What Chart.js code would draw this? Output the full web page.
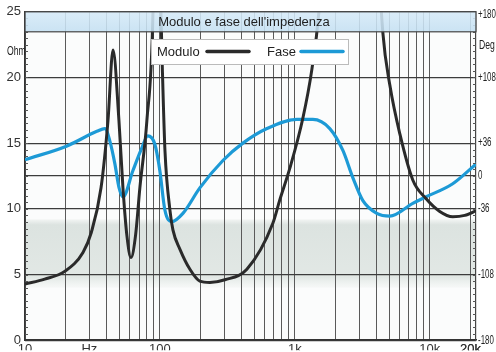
<!DOCTYPE html>
<html>
<head>
<meta charset="utf-8">
<script src="https://cdn.jsdelivr.net/npm/chart.js@4/dist/chart.umd.min.js"></script>
<style>
    html, body { margin: 0; padding: 0; background: #fff; }
    #wrap { width: 496px; height: 352px; }
</style>
</head>
<body>
<div id="wrap"><canvas id="impChart" width="496" height="352"></canvas></div>
<script>
// Modulo (Ohm) vs frequency
const freqModulo = [10, 14, 19.8, 26.9, 31, 36.6, 41.2, 44.9, 49.7, 53.2, 57, 61, 66, 71, 80, 88.8, 95, 101.7, 105, 109, 118.6, 124.8, 141, 166.8, 197.6, 234.5, 303, 441, 687, 774, 918, 1146, 1336, 1507, 2000, 2600, 3400, 4490, 5060, 6000, 7480, 9330, 11850, 14800, 18150, 22500];
const modulo = [4.28, 4.65, 5.26, 6.68, 8.2, 11.6, 16.7, 22.1, 16.7, 11.6, 7.9, 6.3, 8.0, 11.6, 16.7, 25, 45, 25, 19.5, 14.4, 9.9, 8.4, 6.9, 5.4, 4.5, 4.4, 4.6, 5.4, 8.9, 10.7, 13.1, 16.9, 20.6, 25, 45, 60, 45, 23.4, 19.4, 15.7, 12.2, 10.8, 9.8, 9.4, 9.5, 9.9];

// Fase (gradi) vs frequency
const freqFase = [10, 20.5, 34.1, 39.1, 42.6, 46.4, 49.7, 53.2, 63.1, 73.6, 81.3, 91.6, 99.8, 108.7, 122.6, 148, 197.6, 293, 412, 621, 1035, 1359, 1815, 2269, 2692, 3192, 4048, 5054, 7480, 9333, 14791, 22500];
const fase = [17.8, 33, 49, 52, 38, 13, -12.6, -23, 6, 31, 44, 35, 6, -37, -50, -41, -13, 17, 36, 52, 62, 62, 52, 28, -2, -27, -41, -44, -30, -23, -8.5, 14.4];

// tick labels
const ohmTicks = [0, 5, 10, 15, 20, 25];
const degTicks = [-180, -108, -36, 0, 36, 108, 180];
const freqLabels = { 10: '10', 30: 'Hz', 100: '100', 1000: '1k', 10000: '10k', 20000: '20k' };

const titleText = "Modulo e fase dell'impedenza";
const baseFont = "'Liberation Sans', Arial, sans-serif";

function freqGridValues() {
    const vals = [];
    [10, 100, 1000, 10000].forEach(dec => {
        for (let m = 1; m <= 9; m++) {
            const v = dec * m;
            if (v <= 20000) vals.push(v);
        }
    });
    vals.push(20000);
    return vals;
}

// squeezed text, the original uses a condensed face on the side captions
function narrowText(ctx, text, x, y, squeeze) {
    ctx.save();
    ctx.translate(x, y);
    ctx.scale(squeeze, 1);
    ctx.fillText(text, 0, 0);
    ctx.restore();
}

const backdropPlugin = {
    id: 'backdrop',
    beforeDraw(chart) {
        const { ctx, chartArea: a, scales } = chart;
        ctx.save();
        ctx.fillStyle = '#fbfcfc';
        ctx.fillRect(a.left, a.top, a.right - a.left, a.bottom - a.top);

        // grey band 4..9 Ohm
        const yTop = scales.y.getPixelForValue(9.2);
        const yBot = scales.y.getPixelForValue(4.0);
        const g = ctx.createLinearGradient(0, yTop, 0, yBot);
        g.addColorStop(0, 'rgba(222,228,225,0.3)');
        g.addColorStop(0.08, 'rgba(220,227,224,1)');
        g.addColorStop(0.85, 'rgba(226,232,229,1)');
        g.addColorStop(1, 'rgba(238,242,240,0.4)');
        ctx.fillStyle = g;
        ctx.fillRect(a.left, yTop, a.right - a.left, yBot - yTop);
        ctx.restore();
    },
    afterDatasetsDraw(chart) {
        const { ctx, chartArea: a, scales } = chart;
        ctx.save();
        ctx.strokeStyle = '#555';
        ctx.lineWidth = 1;
        for (let v = 0.5; v < 25; v += 0.5) {
            const y = Math.round(scales.y.getPixelForValue(v)) + 0.5;
            ctx.beginPath();
            ctx.moveTo(a.left, y); ctx.lineTo(a.left + 3, y);
            ctx.moveTo(a.right - 3, y); ctx.lineTo(a.right, y);
            ctx.stroke();
        }

        // title band
        const bandH = 20;
        const g = ctx.createLinearGradient(0, a.top, 0, a.top + bandH);
        g.addColorStop(0, 'rgba(214,234,248,0.88)');
        g.addColorStop(1, 'rgba(196,224,242,0.88)');
        ctx.fillStyle = g;
        ctx.fillRect(a.left, a.top, a.right - a.left, bandH);
        ctx.strokeStyle = '#444';
        ctx.lineWidth = 1.2;
        ctx.strokeRect(a.left, a.top, a.right - a.left, bandH);
        ctx.fillStyle = '#1e1e1e';
        ctx.font = "13px " + baseFont;
        ctx.textAlign = 'center';
        ctx.textBaseline = 'middle';
        ctx.fillText(titleText, 244, a.top + bandH / 2 + 1);

        // legend box
        const lx = 151, ly = 39, lw = 197, lh = 25;
        ctx.fillStyle = '#fff';
        ctx.fillRect(lx, ly, lw, lh);
        ctx.strokeStyle = '#bbb';
        ctx.lineWidth = 1;
        ctx.strokeRect(lx + 0.5, ly + 0.5, lw, lh);
        ctx.textAlign = 'left';
        ctx.fillStyle = '#222';
        const ds = chart.data.datasets;
        const items = [[157, 207, 249], [267, 301, 343]];
        items.forEach((it, i) => {
            ctx.fillText(ds[i].label, it[0], ly + lh / 2 + 1);
            ctx.strokeStyle = ds[i].borderColor;
            ctx.lineWidth = 3.5;
            ctx.lineCap = 'round';
            ctx.beginPath();
            ctx.moveTo(it[1], ly + 12.5);
            ctx.lineTo(it[2], ly + 12.5);
            ctx.stroke();
        });

        // right hand degree labels and captions
        ctx.fillStyle = '#222';
        ctx.font = "12px " + baseFont;
        ctx.textAlign = 'left';
        degTicks.forEach(d => {
            const txt = d > 0 ? '+' + d : String(d);
            const y = Math.min(Math.max(scales.y2.getPixelForValue(d), 15), 344);
            narrowText(ctx, txt, a.right + 2, y, 0.66);
        });
        narrowText(ctx, 'Deg', a.right + 3, 46, 0.72);
        narrowText(ctx, 'Ohm', 7, 52, 0.72);
        ctx.restore();
    }
};

new Chart(document.getElementById('impChart'), {
    type: 'line',
    data: {
        datasets: [{
            label: 'Modulo',
            data: freqModulo.map((f, i) => ({ x: f, y: modulo[i] })),
            borderColor: '#2a2a2a',
            borderWidth: 3,
            pointRadius: 0,
            cubicInterpolationMode: 'monotone',
            yAxisID: 'y'
        }, {
            label: 'Fase',
            data: freqFase.map((f, i) => ({ x: f, y: fase[i] })),
            borderColor: '#1d9ad6',
            borderWidth: 3.2,
            pointRadius: 0,
            cubicInterpolationMode: 'monotone',
            yAxisID: 'y2'
        }]
    },
    options: {
        responsive: false,
        animation: false,
        layout: { padding: { top: 9, left: 0, right: 0, bottom: 0 } },
        plugins: { legend: { display: false }, tooltip: { enabled: false } },
        scales: {
            x: {
                type: 'logarithmic',
                min: 10,
                max: 22000,
                afterBuildTicks: scale => { scale.ticks = freqGridValues().map(v => ({ value: v })); },
                afterFit: scale => { scale.height = 10; },
                ticks: {
                    autoSkip: false,
                    maxRotation: 0,
                    padding: 1,
                    color: '#333',
                    font: { family: baseFont, size: 13 },
                    callback: v => freqLabels[v] || ''
                },
                grid: { color: '#5a5a5a', lineWidth: 1, drawTicks: false },
                border: { color: '#333', width: 1.5 }
            },
            y: {
                position: 'left',
                min: 0,
                max: 25,
                afterBuildTicks: scale => { scale.ticks = ohmTicks.map(v => ({ value: v })); },
                afterFit: scale => { scale.width = 25; },
                ticks: {
                    padding: 4,
                    color: '#333',
                    font: { family: baseFont, size: 13 }
                },
                grid: { display: false, drawTicks: false },
                border: { color: '#333', width: 1.5 }
            },
            y2: {
                position: 'right',
                min: -180,
                max: 180,
                afterBuildTicks: scale => { scale.ticks = degTicks.map(v => ({ value: v })); },
                afterFit: scale => { scale.width = 20; },
                ticks: { display: false },
                grid: { color: '#3c3c3c', lineWidth: 1.2, drawTicks: false },
                border: { color: '#444', width: 1.2 }
            }
        }
    },
    plugins: [backdropPlugin]
});
</script>
</body>
</html>
